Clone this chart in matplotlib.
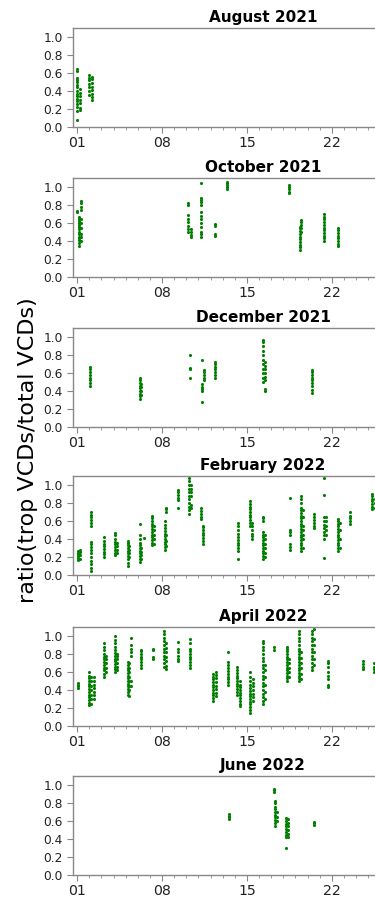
import numpy as np
import matplotlib
matplotlib.use('Agg')
import matplotlib.pyplot as plt
from matplotlib.ticker import FixedLocator, MultipleLocator

# panel titles
titles = ['August 2021', 'October 2021', 'December 2021',
          'February 2022', 'April 2022', 'June 2022']

# each streak: (day of month, ratio values)
aug = [
    (1.0, [0.08, 0.18, 0.22, 0.26, 0.29, 0.31, 0.34, 0.37, 0.40, 0.44, 0.47, 0.50, 0.52, 0.55, 0.62, 0.65]),
    (1.2, [0.19, 0.21, 0.27, 0.30, 0.35, 0.38, 0.42]),
    (2.0, [0.36, 0.40, 0.44, 0.48, 0.52, 0.55, 0.58]),
    (2.2, [0.30, 0.33, 0.37, 0.41, 0.45, 0.49, 0.53, 0.56]),
]
oct_ = [
    (1.0, [0.72, 0.73]),
    (1.15, [0.35, 0.38, 0.41, 0.43, 0.45, 0.48, 0.50, 0.53, 0.56, 0.58, 0.60, 0.62, 0.65, 0.67]),
    (1.3, [0.40, 0.44, 0.48, 0.55, 0.60, 0.64, 0.75, 0.78, 0.82, 0.85]),
    (10.15, [0.50, 0.53, 0.57, 0.61, 0.65, 0.69, 0.80, 0.82]),
    (10.35, [0.45, 0.47, 0.50, 0.53]),
    (11.25, [0.45, 0.48, 0.50, 0.56, 0.60, 0.64, 0.68, 0.72, 0.80, 0.83, 0.86, 0.88, 1.05]),
    (12.35, [0.46, 0.48, 0.57, 0.59]),
    (13.35, [0.98, 1.00, 1.02, 1.04, 1.06]),
    (18.45, [0.93, 0.95, 0.98, 1.00, 1.02]),
    (19.35, [0.30, 0.33, 0.36, 0.39, 0.42, 0.45, 0.48, 0.51, 0.54, 0.56]),
    (19.5, [0.50, 0.55, 0.58, 0.61, 0.63]),
    (21.35, [0.40, 0.43, 0.46, 0.49, 0.52, 0.55, 0.58, 0.61, 0.64, 0.67, 0.70]),
    (22.55, [0.34, 0.37, 0.40, 0.43, 0.46, 0.49, 0.52, 0.54]),
]
dec = [
    (2.05, [0.46, 0.49, 0.52, 0.55, 0.58, 0.61, 0.64, 0.67]),
    (6.15, [0.31, 0.34, 0.37, 0.40, 0.43, 0.46, 0.49, 0.52, 0.54]),
    (6.3, [0.36, 0.40, 0.44, 0.48]),
    (10.3, [0.54, 0.64, 0.66, 0.80]),
    (11.3, [0.28, 0.40, 0.42, 0.45, 0.48, 0.75]),
    (11.45, [0.52, 0.55, 0.58, 0.61, 0.63]),
    (12.35, [0.55, 0.58, 0.61, 0.64, 0.67, 0.70, 0.72]),
    (16.3, [0.50, 0.55, 0.60, 0.65, 0.70, 0.75, 0.80, 0.85, 0.90, 0.94, 0.97]),
    (16.45, [0.40, 0.42, 0.52, 0.56, 0.60, 0.64, 0.68, 0.72]),
    (20.4, [0.38, 0.41, 0.46, 0.49, 0.52, 0.55, 0.58, 0.61, 0.63]),
]
feb = [
    (1.1, [0.17, 0.19, 0.21, 0.23, 0.25, 0.27]),
    (1.25, [0.18, 0.22, 0.26, 0.28]),
    (2.15, [0.05, 0.08, 0.12, 0.16, 0.20, 0.24, 0.28, 0.31, 0.34, 0.37, 0.55, 0.58, 0.61, 0.64, 0.67, 0.70]),
    (3.2, [0.20, 0.23, 0.26, 0.29, 0.32, 0.35, 0.38, 0.42]),
    (4.15, [0.22, 0.25, 0.28, 0.31, 0.34, 0.37, 0.40, 0.44, 0.47]),
    (4.3, [0.24, 0.28, 0.32, 0.36]),
    (5.15, [0.10, 0.13, 0.18, 0.21, 0.24, 0.27, 0.30, 0.33, 0.36, 0.38]),
    (5.3, [0.20, 0.24, 0.28, 0.32]),
    (6.15, [0.15, 0.18, 0.21, 0.24, 0.27, 0.30, 0.33, 0.36, 0.40, 0.44, 0.57]),
    (6.3, [0.18, 0.22, 0.26, 0.30]),
    (6.5, [0.41]),
    (7.2, [0.33, 0.36, 0.39, 0.42, 0.45, 0.48, 0.51, 0.54, 0.57, 0.60, 0.63, 0.66]),
    (7.35, [0.35, 0.40, 0.45, 0.50, 0.55]),
    (8.2, [0.28, 0.31, 0.34, 0.37, 0.40, 0.43, 0.46, 0.49, 0.52, 0.56, 0.60]),
    (8.35, [0.32, 0.38, 0.44, 0.70, 0.73, 0.75]),
    (9.3, [0.74, 0.83, 0.86, 0.89, 0.92, 0.95]),
    (10.25, [0.68, 0.72, 0.76, 0.80, 0.84, 0.88, 0.92, 0.96, 1.00, 1.04, 1.08]),
    (10.4, [0.75, 0.78, 0.88, 0.92, 0.96, 1.00]),
    (11.25, [0.62, 0.65, 0.68, 0.71, 0.75]),
    (11.35, [0.35, 0.38, 0.41, 0.44, 0.47, 0.50, 0.53, 0.55]),
    (14.25, [0.18, 0.27, 0.30, 0.33, 0.36, 0.39, 0.42, 0.46, 0.50, 0.54, 0.58]),
    (15.25, [0.55, 0.58, 0.61, 0.64, 0.67, 0.70, 0.73, 0.76, 0.79, 0.82]),
    (15.45, [0.40, 0.43, 0.46, 0.50, 0.54, 0.58]),
    (16.3, [0.18, 0.21, 0.24, 0.27, 0.30, 0.33, 0.36, 0.39, 0.42, 0.45, 0.48, 0.60, 0.63, 0.65]),
    (16.45, [0.20, 0.25, 0.30, 0.35, 0.40, 0.45]),
    (18.55, [0.28, 0.31, 0.34, 0.45, 0.48, 0.50, 0.86]),
    (19.45, [0.27, 0.30, 0.33, 0.36, 0.39, 0.42, 0.45, 0.48, 0.51, 0.54, 0.57, 0.60,
             0.63, 0.66, 0.69, 0.72, 0.75, 0.80, 0.84, 0.88]),
    (19.6, [0.30, 0.40, 0.45, 0.50, 0.55, 0.65, 0.72]),
    (20.5, [0.52, 0.55, 0.58, 0.61, 0.64, 0.68]),
    (21.35, [0.19, 0.40, 0.44, 0.48, 0.52, 0.56, 0.60, 0.64, 0.89, 1.08]),
    (21.5, [0.45, 0.50, 0.55, 0.60, 0.65]),
    (22.5, [0.27, 0.30, 0.33, 0.36, 0.39, 0.42, 0.45, 0.48, 0.51, 0.54, 0.57, 0.60, 0.62]),
    (22.65, [0.30, 0.40, 0.50, 0.58]),
    (23.5, [0.57, 0.60, 0.63, 0.66, 0.70]),
    (25.35, [0.73, 0.76, 0.79, 0.82, 0.85, 0.88, 0.90]),
    (25.6, [0.75, 0.80, 0.85]),
]
apr = [
    (1.05, [0.42, 0.44, 0.46, 0.48]),
    (2.0, [0.23, 0.26, 0.29, 0.32, 0.35, 0.38, 0.41, 0.44, 0.47, 0.50, 0.53, 0.56, 0.60]),
    (2.15, [0.25, 0.30, 0.35, 0.40, 0.45, 0.50, 0.55]),
    (2.35, [0.30, 0.34, 0.38, 0.42, 0.46, 0.50, 0.54]),
    (3.2, [0.55, 0.58, 0.62, 0.65, 0.68, 0.71, 0.74, 0.77, 0.80, 0.84, 0.88, 0.92]),
    (3.35, [0.60, 0.65, 0.70, 0.75, 0.78]),
    (4.1, [0.60, 0.63, 0.66, 0.69, 0.72, 0.75, 0.78, 0.81, 0.84, 0.88, 0.92, 0.96, 1.00]),
    (4.3, [0.62, 0.66, 0.70, 0.74, 0.78, 0.80]),
    (5.15, [0.35, 0.38, 0.41, 0.44, 0.47, 0.50, 0.53, 0.56, 0.59, 0.62, 0.65, 0.68, 0.71]),
    (5.3, [0.33, 0.40, 0.45, 0.50, 0.55, 0.60, 0.65, 0.70]),
    (5.45, [0.45, 0.50, 0.78, 0.82, 0.86, 0.90, 0.98]),
    (6.3, [0.65, 0.68, 0.71, 0.74, 0.77, 0.80, 0.83, 0.85]),
    (7.25, [0.75, 0.77, 0.84, 0.86]),
    (8.15, [0.66, 0.70, 0.74, 0.78, 0.82, 0.86, 0.90, 0.94, 0.98, 1.02, 1.06]),
    (8.35, [0.63, 0.67, 0.72, 0.77, 0.82, 0.87, 0.92]),
    (9.3, [0.72, 0.74, 0.78, 0.82, 0.86, 0.93]),
    (10.3, [0.65, 0.68, 0.71, 0.74, 0.77, 0.80, 0.83, 0.86, 0.92, 0.97]),
    (12.2, [0.28, 0.31, 0.34, 0.37, 0.40, 0.43, 0.46, 0.49, 0.52, 0.55, 0.58]),
    (12.45, [0.33, 0.37, 0.41, 0.45, 0.49, 0.53, 0.57, 0.60]),
    (13.4, [0.46, 0.49, 0.52, 0.55, 0.58, 0.61, 0.64, 0.68, 0.71, 0.82]),
    (14.2, [0.35, 0.38, 0.41, 0.44, 0.47, 0.50, 0.53, 0.56, 0.59, 0.62, 0.66]),
    (14.45, [0.22, 0.25, 0.28, 0.31, 0.34, 0.37, 0.40, 0.43, 0.46, 0.50]),
    (15.25, [0.15, 0.18, 0.21, 0.24, 0.27, 0.30, 0.33, 0.36, 0.39, 0.42, 0.46, 0.50, 0.55, 0.60]),
    (15.5, [0.28, 0.32, 0.36, 0.40, 0.44, 0.48, 0.52]),
    (16.3, [0.25, 0.28, 0.32, 0.36, 0.40, 0.44, 0.48, 0.52, 0.56, 0.60, 0.64, 0.68,
            0.72, 0.76, 0.80, 0.84, 0.88, 0.92, 0.95]),
    (16.45, [0.30, 0.38, 0.46, 0.54, 0.62, 0.68]),
    (17.25, [0.85, 0.88]),
    (18.3, [0.50, 0.53, 0.56, 0.59, 0.62, 0.65, 0.68, 0.71, 0.74, 0.77, 0.80, 0.83, 0.86, 0.88]),
    (18.5, [0.55, 0.60, 0.65, 0.70, 0.75]),
    (19.3, [0.50, 0.53, 0.56, 0.59, 0.62, 0.65, 0.68, 0.71, 0.74, 0.77, 0.80, 0.83,
            0.86, 0.90, 0.94, 0.98, 1.02, 1.06]),
    (19.5, [0.52, 0.58, 0.64, 0.70, 0.76, 0.82]),
    (20.4, [0.62, 0.66, 0.70, 0.74, 0.78, 0.82, 0.86, 0.90, 0.94, 0.98, 1.02, 1.06]),
    (20.55, [0.68, 0.75, 0.82, 0.90, 0.97, 1.08]),
    (21.65, [0.43, 0.46, 0.52, 0.56, 0.60, 0.66, 0.70, 0.72]),
    (24.6, [0.63, 0.66, 0.69, 0.72]),
    (25.45, [0.60, 0.63, 0.66, 0.70]),
]
jun = [
    (13.5, [0.62, 0.64, 0.66, 0.68]),
    (17.2, [0.92, 0.94, 0.96]),
    (17.3, [0.55, 0.58, 0.61, 0.64, 0.67, 0.70, 0.73, 0.76, 0.80, 0.82]),
    (17.45, [0.60, 0.65, 0.70]),
    (18.25, [0.30, 0.42, 0.45, 0.48, 0.51, 0.54, 0.57, 0.60, 0.63]),
    (18.4, [0.42, 0.46, 0.50, 0.54, 0.58, 0.62]),
    (20.5, [0.56, 0.58, 0.59]),
]
panels = [aug, oct_, dec, feb, apr, jun]

xticks = [1, 8, 15, 22]
xticklabels = ['01', '08', '15', '22']
yticks = [0.0, 0.2, 0.4, 0.6, 0.8, 1.0]

W, H = 375, 899
fig = plt.figure(figsize=(W / 100, H / 100), dpi=100)

# axes tops in pixels; axes run off the right edge like the original crop
tops = [28, 178, 328, 476, 627, 776]
ax_h = 99
left_px, right_px = 73, 453

for i in range(6):
    ax = fig.add_axes([left_px / W, 1 - (tops[i] + ax_h) / H,
                       (right_px - left_px) / W, ax_h / H])
    xs, ys = [], []
    for day, vals in panels[i]:
        xs += [day] * len(vals)
        ys += vals
    ax.scatter(xs, ys, s=5, color='green', marker='o', linewidths=0)
    ax.set_xlim(0.65, 32.0)
    ax.set_ylim(0, 1.1)
    ax.xaxis.set_major_locator(FixedLocator(xticks))
    ax.set_xticklabels(xticklabels)
    ax.xaxis.set_minor_locator(MultipleLocator(1))
    ax.set_yticks(yticks)
    ax.tick_params(axis='x', which='major', labelsize=10.2, length=4, pad=2.5,
                   color='#888888', labelcolor='#222222')
    ax.tick_params(axis='x', which='minor', length=2.5, color='#888888')
    ax.tick_params(axis='y', labelsize=8.8, length=4, color='#888888',
                   labelcolor='#222222')
    for s in ax.spines.values():
        s.set_color('#888888')
        s.set_linewidth(1.0)
    ax.set_title(titles[i], fontsize=11, fontweight='bold', pad=4)

fig.text(28 / W, 1 - 450 / H, 'ratio(trop VCDs/total VCDs)', rotation=90,
         ha='center', va='center', fontsize=16)

fig.savefig('out.png', dpi=100)
